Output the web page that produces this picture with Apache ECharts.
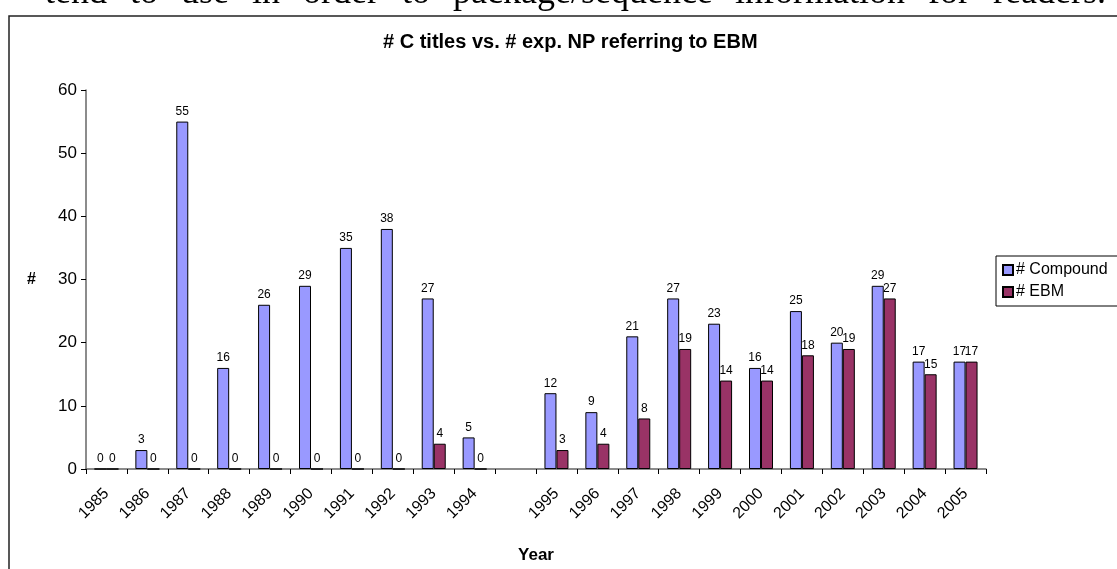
<!DOCTYPE html>
<html>
<head>
<meta charset="utf-8">
<script src="https://cdn.jsdelivr.net/npm/echarts@6/dist/echarts.min.js"></script>
<style>
  html, body { margin: 0; padding: 0; background: #fff; }
  #main { width: 1117px; height: 569px; }
</style>
</head>
<body>
<div id="main"></div>
<script>
// 数据
var years = ['1985', '1986', '1987', '1988', '1989', '1990', '1991', '1992', '1993', '1994', '',
             '1995', '1996', '1997', '1998', '1999', '2000', '2001', '2002', '2003', '2004', '2005'];
var compound = [0, 3, 55, 16, 26, 29, 35, 38, 27, 5, null, 12, 9, 21, 27, 23, 16, 25, 20, 29, 17, 17];
var ebm = [0, 0, 0, 0, 0, 0, 0, 0, 4, 0, null, 3, 4, 8, 19, 14, 14, 18, 19, 27, 15, 17];
var yTicks = [0, 10, 20, 30, 40, 50, 60];

// 上方文档里被截掉的一行字（两端对齐）
var docWords = [
    ['tend', 45], ['to', 130], ['use', 181], ['in', 252], ['order', 303], ['to', 402],
    ['package/sequence', 453], ['information', 735], ['for', 928], ['readers.', 993]
];

var myChart = echarts.init(document.getElementById('main'));

var graphics = [{
    type: 'rect',
    shape: { x: 9, y: 16, width: 1200, height: 600 },
    style: { fill: 'none', stroke: '#222', lineWidth: 1.5 },
    silent: true
}];
docWords.forEach(function (w) {
    graphics.push({
        type: 'text',
        x: w[1],
        y: 12,
        style: {
            text: w[0],
            font: '36px "Liberation Serif", serif',
            fill: '#000',
            textVerticalAlign: 'bottom'
        },
        silent: true
    });
});

var labelStyle = {
    show: true,
    position: 'top',
    distance: 4,
    color: '#000',
    fontSize: 12,
    fontFamily: 'Liberation Sans, Arial'
};

var option = {
    animation: false,
    textStyle: { fontFamily: 'Liberation Sans, Arial' },
    title: {
        text: '# C titles vs. # exp. NP referring to EBM',
        left: 378,
        top: 27,
        textStyle: { fontSize: 20, fontWeight: 'bold', color: '#000', fontFamily: 'Liberation Sans, Arial' }
    },
    legend: {
        orient: 'vertical',
        left: 996,
        top: 256,
        padding: [6, 30, 6, 6],
        itemGap: 6,
        itemWidth: 10,
        itemHeight: 10,
        icon: 'rect',
        borderColor: '#000',
        borderWidth: 1,
        textStyle: { fontSize: 16, color: '#000', padding: [0, 0, 0, -2] },
        data: ['# Compound', '# EBM']
    },
    grid: { left: 86, right: 131, top: 90, bottom: 99, containLabel: false },
    xAxis: {
        type: 'category',
        data: years,
        name: 'Year',
        nameLocation: 'middle',
        nameGap: 78,
        nameTextStyle: { fontSize: 17, fontWeight: 'bold', color: '#000' },
        axisLine: { lineStyle: { color: '#666', width: 1.5 } },
        axisTick: { show: true, length: 5, lineStyle: { color: '#000' } },
        axisLabel: { rotate: 45, margin: 22, fontSize: 16, color: '#000', interval: 0 }
    },
    yAxis: {
        type: 'value',
        min: 0,
        max: 60,
        interval: 10,
        name: '#',
        nameLocation: 'middle',
        nameGap: 50,
        nameRotate: 0,
        nameTextStyle: { fontSize: 16, fontWeight: 'bold', color: '#000' },
        splitLine: { show: false },
        axisLine: { show: true, lineStyle: { color: '#666', width: 1.5 } },
        axisTick: { show: true, length: 5, lineStyle: { color: '#000' } },
        axisLabel: {
            fontSize: 17,
            color: '#000',
            margin: 9,
            formatter: function (v) { return yTicks.indexOf(v) >= 0 ? String(v) : ''; }
        }
    },
    series: [
        {
            name: '# Compound',
            type: 'bar',
            data: compound,
            barWidth: 12,
            barGap: '0%',
            itemStyle: { color: '#9999FF', borderColor: '#000', borderWidth: 1 },
            label: labelStyle
        },
        {
            name: '# EBM',
            type: 'bar',
            data: ebm,
            barWidth: 12,
            itemStyle: { color: '#993366', borderColor: '#000', borderWidth: 1 },
            label: labelStyle
        }
    ],
    graphic: graphics
};

myChart.setOption(option);
</script>
</body>
</html>
